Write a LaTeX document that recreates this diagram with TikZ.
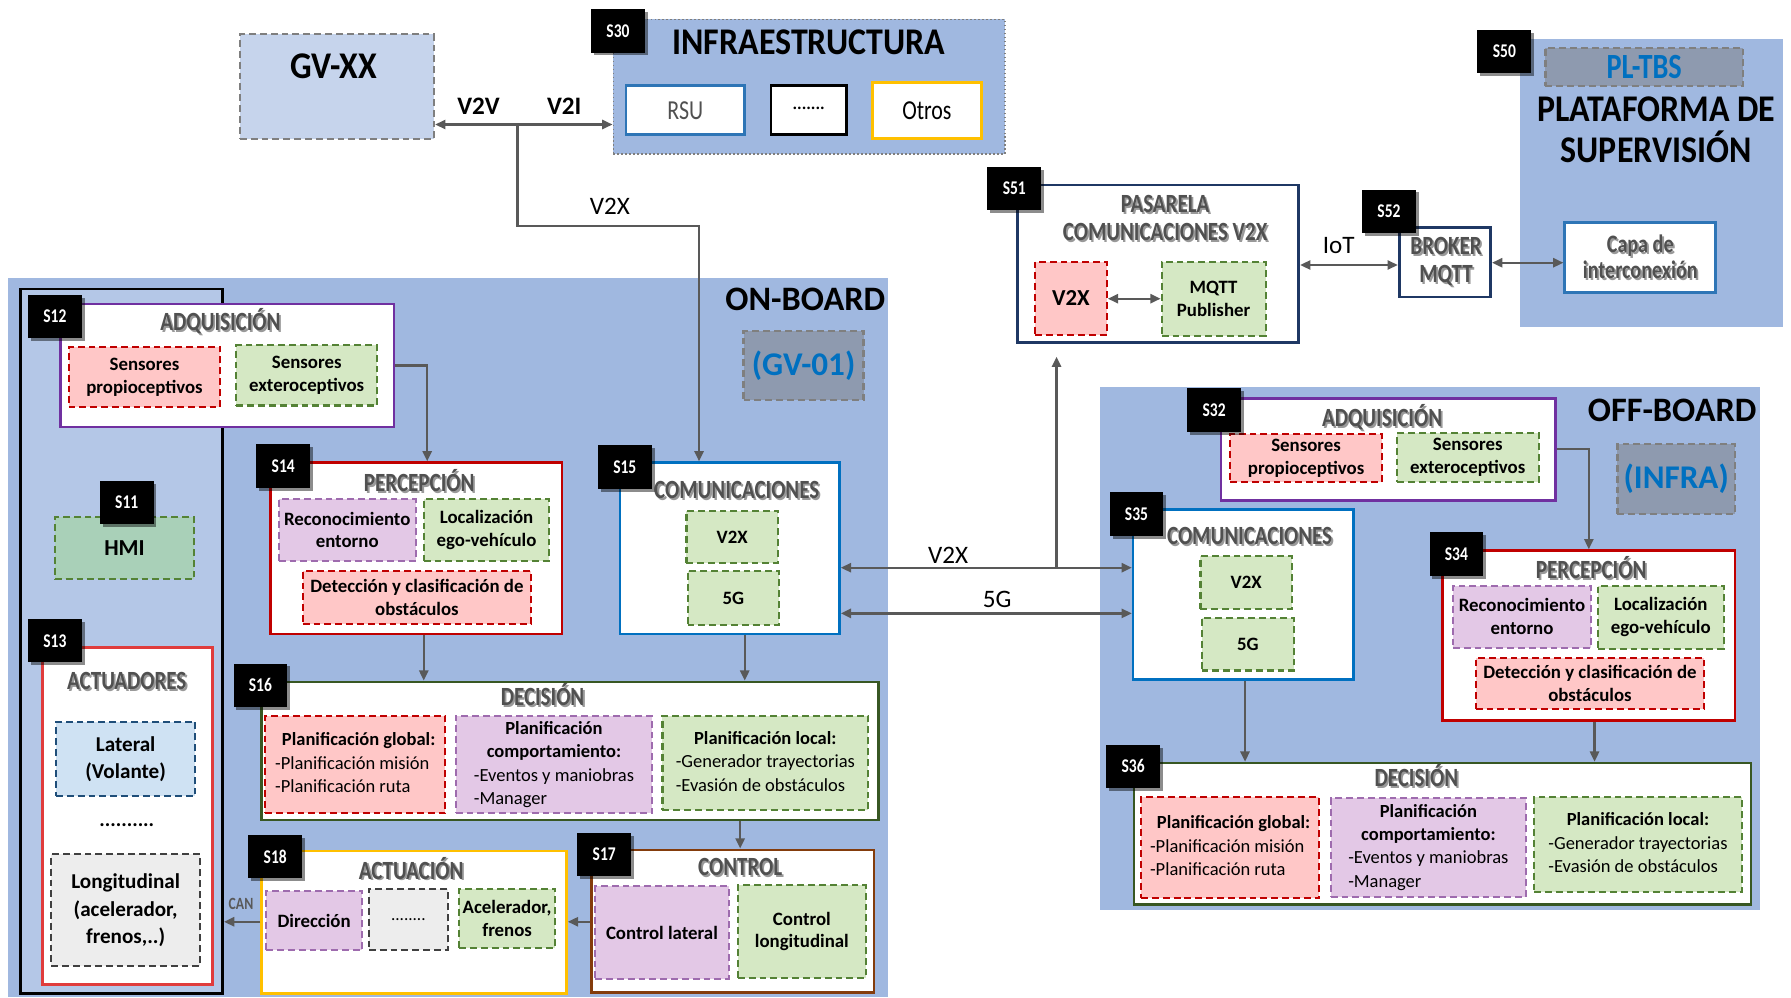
\documentclass[tikz,border=0pt]{standalone}
\usepackage{fontspec}
\setmainfont{Carlito}
\newfontfamily\condf{Carlito}[FakeStretch=0.8]
\newfontfamily\bigf{Carlito}[FakeStretch=0.9]
\usetikzlibrary{arrows.meta,shadows,calc}
\definecolor{regblue}{HTML}{A0B8E0}
\definecolor{colblue}{HTML}{B4C7E7}
\definecolor{gvfill}{HTML}{C6D4EC}
\definecolor{grayfill}{HTML}{8E9AAF}
\definecolor{dashgray}{HTML}{7F7F7F}
\definecolor{labblue}{HTML}{0070C0}
\definecolor{pinkf}{HTML}{FFC7C7}
\definecolor{redd}{HTML}{C00000}
\definecolor{greenf}{HTML}{D5E8C4}
\definecolor{greend}{HTML}{548235}
\definecolor{purpf}{HTML}{E3C8E6}
\definecolor{purpd}{HTML}{9E6BAE}
\definecolor{lgrayf}{HTML}{EDEDED}
\definecolor{dgrayd}{HTML}{404040}
\definecolor{latf}{HTML}{CFE2F3}
\definecolor{latd}{HTML}{1F4E79}
\definecolor{hmif}{HTML}{A9D0B8}
\definecolor{bordblue}{HTML}{0070C0}
\definecolor{rsublue}{HTML}{2E75B6}
\definecolor{navy}{HTML}{1F3864}
\definecolor{purpbord}{HTML}{7030A0}
\definecolor{redbord}{HTML}{C00000}
\definecolor{actred}{HTML}{E03C3C}
\definecolor{greenbord}{HTML}{385723}
\definecolor{brownbord}{HTML}{843C0C}
\definecolor{goldbord}{HTML}{FFC000}
\definecolor{arrgray}{HTML}{595959}
\definecolor{ttlgray}{HTML}{505050}
\newcommand\shttl[4][]{\node[ttlsh,#1] (#2s) at ($(#3)+(1.6,1.6)$) {#4};\node[ttl,#1] (#2) at (#3) {#4};}
\newcommand\pgtext{\begin{tabular}{@{}l@{}}\hspace*{6pt}\textbf{Planificación global:}\\-Planificación misión\\-Planificación ruta\end{tabular}}
\newcommand\pctext{\begin{tabular}{@{}l@{}}\multicolumn{1}{@{}c@{}}{\textbf{Planificación}}\\\multicolumn{1}{@{}c@{}}{\textbf{comportamiento:}}\\-Eventos y maniobras\\-Manager\end{tabular}}
\newcommand\pltext{\begin{tabular}{@{}l@{}}\multicolumn{1}{@{}c@{}}{\textbf{Planificación local:}}\\-Generador trayectorias\\-Evasión de obstáculos\end{tabular}}
\begin{document}
\begin{tikzpicture}[x=1pt,y=-1pt,
  bx/.style n args={4}{at={({(#1+#3)/2},{(#2+#4)/2})},minimum width={#3-#1},minimum height={#4-#2},inner sep=0pt},
  region/.style={fill=regblue,draw=none,inner sep=0pt},
  tagbox/.style={fill=black,text=white,font=\condf\bfseries\fontsize{17}{17}\selectfont,minimum width=47pt,minimum height=38pt,inner sep=0pt,drop shadow={shadow xshift=2.5pt,shadow yshift=-2.5pt,opacity=0.45,fill=black}},
  secbox/.style={fill=white,line width=2.2pt,inner sep=0pt},
  ttl/.style={text=ttlgray,font=\condf\bfseries\fontsize{23}{24}\selectfont,inner sep=0pt,align=center},
  ttlsh/.style={ttl,text=black!40},
  dbox/.style={line width=1.8pt,dash pattern=on 6pt off 3.5pt,inner sep=0pt,align=center,font=\fontsize{16.5}{20}\selectfont\bfseries},
  boxpink/.style={dbox,fill=pinkf,draw=redd},
  boxgreen/.style={dbox,fill=greenf,draw=greend},
  boxpurp/.style={dbox,fill=purpf,draw=purpd},
  boxgray/.style={dbox,fill=lgrayf,draw=dgrayd},
  decf/.style={font=\fontsize{16.2}{20.5}\selectfont},
  gbox/.style={fill=grayfill,draw=dashgray,line width=2pt,dash pattern=on 6pt off 3.5pt,inner sep=0pt,text=labblue,font=\bfseries\fontsize{29}{29}\selectfont},
  big/.style={font=\bigf\bfseries\fontsize{33}{36}\selectfont,inner sep=0pt,align=center},
  lbl/.style={font=\fontsize{22}{22}\selectfont,inner sep=0pt},
  arr/.style={draw=arrgray,line width=2pt,-{Triangle[length=9pt,width=8pt]}},
  arrb/.style={draw=arrgray,line width=2pt,{Triangle[length=9pt,width=8pt]}-{Triangle[length=9pt,width=8pt]}}
]
\useasboundingbox (0,0) rectangle (1568,873);
% ---------- regions ----------
\node[region,draw=dashgray,dotted,line width=1.5pt,bx={537}{17}{880}{135}] (infra) {};
\node[region,bx={1331}{34}{1561}{286}] (plat) {};
\node[region,bx={7}{243}{777}{873}] (onb) {};
\node[region,bx={963}{339}{1541}{797}] (offb) {};
\node[fill=colblue,draw=black,line width=2.2pt,bx={18}{253}{195}{870}] (col) {};
% ---------- top ----------
\node[fill=gvfill,draw=dashgray,line width=2pt,dash pattern=on 6pt off 3.5pt,bx={210}{30}{380}{122}] (gvxx) {};
\node[big] (gvxxt) at (292,58) {GV-XX};
\node[big] (infrat) at (708,37) {INFRAESTRUCTURA};
\node[fill=white,draw=rsublue,line width=2.5pt,bx={548}{75}{652}{118},text=ttlgray,font=\condf\fontsize{24}{24}\selectfont] (rsu) {RSU};
\node[fill=white,draw=black,line width=2.5pt,bx={675}{75}{741}{118},font=\fontsize{16}{16}\selectfont] (idots) {·······};
\node[fill=white,draw=goldbord,line width=2.5pt,bx={764}{72}{859}{121},font=\condf\fontsize{24}{24}\selectfont] (otros) {Otros};
\node[gbox,font=\condf\bfseries\fontsize{31}{31}\selectfont,bx={1353}{42}{1526}{75}] (pltbs) {PL-TBS};
\node[big] (platt) at (1450,114) {PLATAFORMA DE\\SUPERVISIÓN};
\node[fill=white,draw=rsublue,line width=2.5pt,bx={1370}{195}{1502}{256}] (capa) {};
\shttl[font=\condf\bfseries\fontsize{22}{23}\selectfont]{capat}{1436,225}{Capa de\\interconexión}
\node[fill=white,draw=navy,line width=2.5pt,bx={1225}{199}{1305}{260}] (brk) {};
\shttl[font=\condf\bfseries\fontsize{23}{24}\selectfont]{brkt}{1266,229}{BROKER\\MQTT}
\node[fill=white,draw=navy,line width=2.5pt,bx={891}{162}{1137}{300}] (pas) {};
\shttl{past}{1020,191}{PASARELA\\COMUNICACIONES V2X}
\node[boxpink,font=\fontsize{20}{20}\selectfont\bfseries,bx={906}{229}{969}{293}] (pv2x) {V2X};
\node[boxgreen,bx={1017}{229}{1108}{294}] (mqtt) {MQTT\\Publisher};
% ---------- ON-BOARD ----------
\node[font=\bfseries\fontsize{30}{30}\selectfont,inner sep=0pt] (onbt) at (705,262) {ON-BOARD};
\node[gbox,bx={651}{290}{756}{350}] (gv01) {(GV-01)};
\node[secbox,draw=purpbord,bx={53}{266}{345}{374}] (adq1) {};
\shttl{adq1t}{193,281}{ADQUISICIÓN}
\node[boxpink,bx={60}{304}{193}{356}] (sp1) {Sensores\\propioceptivos};
\node[boxgreen,bx={207}{302}{330}{355}] (se1) {Sensores\\exteroceptivos};
\node[dbox,fill=hmif,draw=greend,font=\fontsize{20}{20}\selectfont\bfseries,bx={48}{453}{170}{507}] (hmi) {HMI};
\node[secbox,draw=actred,line width=2.5pt,bx={37}{567}{186}{862}] (act) {};
\shttl{actt}{111,596}{ACTUADORES}
\node[dbox,fill=latf,draw=latd,font=\fontsize{18.5}{24}\selectfont\bfseries,bx={49}{632}{171}{697}] (lat) {Lateral\\(Volante)};
\node[font=\fontsize{18}{18}\selectfont\bfseries,inner sep=0pt] (adots) at (111,722) {..........};
\node[boxgray,font=\fontsize{18.5}{24}\selectfont\bfseries,bx={45}{748}{175}{846}] (lon) {Longitudinal\\(acelerador,\\frenos,..)};
\node[secbox,draw=redbord,bx={237}{405}{492}{555}] (perc1) {};
\shttl{perc1t}{367,421}{PERCEPCIÓN}
\node[boxpurp,bx={244}{437}{364}{491}] (rec1) {Reconocimiento\\entorno};
\node[boxgreen,bx={371}{437}{481}{491}] (loc1) {Localización\\ego-vehículo};
\node[boxpink,bx={265}{500}{465}{546}] (det1) {Detección y clasificación de\\obstáculos};
\node[secbox,draw=bordblue,bx={543}{405}{735}{555}] (com1) {};
\shttl{com1t}{645,429}{COMUNICACIONES}
\node[boxgreen,bx={601}{447}{681}{493}] (cv1) {V2X};
\node[boxgreen,bx={602}{500}{682}{547}] (cg1) {5G};
\node[secbox,draw=greenbord,bx={229}{597}{769}{718}] (dec1) {};
\shttl{dec1t}{475,608}{DECISIÓN}
\node[boxpink,decf,bx={232}{627}{390}{712}] (pg1) {\pgtext};
\node[boxpurp,decf,bx={399}{627}{571}{712}] (pc1) {\pctext};
\node[boxgreen,decf,bx={580}{627}{760}{709}] (pl1) {\pltext};
\node[secbox,draw=brownbord,bx={518}{744}{765}{869}] (ctrl) {};
\shttl{ctrlt}{648,759}{CONTROL}
\node[boxpurp,bx={521}{776}{638}{857}] (cl) {Control lateral};
\node[boxgreen,bx={646}{775}{758}{856}] (clo) {Control\\longitudinal};
\node[secbox,draw=goldbord,bx={229}{745}{496}{870}] (actn) {};
\shttl{actnt}{360,760}{ACTUACIÓN}
\node[boxpurp,bx={233}{780}{317}{832}] (dir) {Dirección};
\node[boxgray,font=\fontsize{15}{15}\selectfont,bx={323}{778}{392}{832}] (gdots) {........};
\node[boxgreen,bx={402}{778}{486}{830}] (acel) {Acelerador,\\frenos};
% ---------- OFF-BOARD ----------
\node[font=\bfseries\fontsize{30}{30}\selectfont,inner sep=0pt] (offbt) at (1464,359) {OFF-BOARD};
\node[gbox,bx={1416}{389}{1519}{450}] (infr) {(INFRA)};
\node[secbox,draw=purpbord,bx={1069}{349}{1362}{438}] (adq2) {};
\shttl{adq2t}{1210,365}{ADQUISICIÓN}
\node[boxpink,bx={1077}{380}{1210}{422}] (sp2) {Sensores\\propioceptivos};
\node[boxgreen,bx={1223}{379}{1347}{422}] (se2) {Sensores\\exteroceptivos};
\node[secbox,draw=bordblue,bx={992}{446}{1185}{595}] (com2) {};
\shttl{com2t}{1094,469}{COMUNICACIONES}
\node[boxgreen,bx={1051}{487}{1131}{533}] (cv2) {V2X};
\node[boxgreen,bx={1052}{541}{1133}{587}] (cg2) {5G};
\node[secbox,draw=redbord,bx={1263}{482}{1519}{631}] (perc2) {};
\shttl{perc2t}{1393,497}{PERCEPCIÓN}
\node[boxpurp,bx={1272}{513}{1393}{567}] (rec2) {Reconocimiento\\entorno};
\node[boxgreen,bx={1399}{513}{1509}{568}] (loc2) {Localización\\ego-vehículo};
\node[boxpink,bx={1292}{576}{1492}{621}] (det2) {Detección y clasificación de\\obstáculos};
\node[secbox,draw=greenbord,bx={993}{668}{1533}{792}] (dec2) {};
\shttl{dec2t}{1240,679}{DECISIÓN}
\node[boxpink,decf,bx={999}{698}{1155}{786}] (pg2) {\pgtext};
\node[boxpurp,decf,bx={1165}{699}{1336}{785}] (pc2) {\pctext};
\node[boxgreen,decf,bx={1343}{698}{1525}{781}] (pl2) {\pltext};
% ---------- connectors ----------
\coordinate (split) at (453,109);
\coordinate (bend) at (612,198);
\draw[arrb] (gvxx.east|-split) -- (infra.west|-split);
\node[lbl,font=\bfseries\fontsize{22}{22}\selectfont] (v2vl) at (419,93) {V2V};
\node[lbl,font=\bfseries\fontsize{22}{22}\selectfont] (v2il) at (494,93) {V2I};
\draw[arr] (split) |- (bend) -- (bend|-com1.north);
\node[lbl] (v2xl) at (534,181) {V2X};
\coordinate (ya) at (374,320);
\draw[arr] (adq1.east|-ya) -| (ya|-perc1.north);
\coordinate (xb) at (371,0);
\draw[arr] (xb|-perc1.south) -- (xb|-dec1.north);
\coordinate (xc) at (652,0);
\draw[arr] (xc|-com1.south) -- (xc|-dec1.north);
\coordinate (xd) at (648,0);
\draw[arr] (xd|-dec1.south) -- (xd|-ctrl.north);
\coordinate (ye) at (0,807);
\draw[arr] (ctrl.west|-ye) -- (actn.east|-ye);
\draw[arr] (actn.west|-ye) -- (col.east|-ye);
\node[inner sep=0pt,text=arrgray,font=\condf\bfseries\fontsize{15}{15}\selectfont] (canl) at (211,791) {CAN};
\coordinate (yv) at (0,497);
\coordinate (yg) at (0,537);
\draw[arrb] (com1.east|-yv) -- (com2.west|-yv);
\node[lbl] (v2xm) at (830,486) {V2X};
\draw[arrb] (com1.east|-yg) -- (com2.west|-yg);
\node[lbl] (g5m) at (873,525) {5G};
\coordinate (up) at (925,497);
\draw[arr,shorten >=11pt] (up) -- (up|-pas.south);
\coordinate (yi) at (0,232);
\draw[arrb] (pas.east|-yi) -- (brk.west|-yi);
\node[lbl] (iotl) at (1172,215) {IoT};
\draw[arrb] (pv2x.east|-mqtt.west) -- (mqtt.west);
\coordinate (yk) at (0,230);
\draw[arrb] (brk.east|-yk) -- (capa.west|-yk);
\coordinate (yf) at (1391,393);
\draw[arr] (adq2.east|-yf) -| (yf|-perc2.north);
\coordinate (xg) at (1090,0);
\draw[arr] (xg|-com2.south) -- (xg|-dec2.north);
\coordinate (xh) at (1396,0);
\draw[arr] (xh|-perc2.south) -- (xh|-dec2.north);
% ---------- tags ----------
\node[tagbox] (s30) at (541,27) {S30};
\node[tagbox] (s50) at (1317,45) {S50};
\node[tagbox] (s51) at (888,165) {S51};
\node[tagbox] (s52) at (1216,185) {S52};
\node[tagbox] (s12) at (48,277) {S12};
\node[tagbox] (s11) at (111,440) {S11};
\node[tagbox] (s13) at (48,561) {S13};
\node[tagbox] (s14) at (248,408) {S14};
\node[tagbox] (s15) at (547,409) {S15};
\node[tagbox] (s16) at (228,600) {S16};
\node[tagbox] (s17) at (529,748) {S17};
\node[tagbox] (s18) at (241,750) {S18};
\node[tagbox] (s32) at (1063,359) {S32};
\node[tagbox] (s35) at (995,450) {S35};
\node[tagbox] (s34) at (1275,485) {S34};
\node[tagbox] (s36) at (992,671) {S36};
\end{tikzpicture}
\end{document}
